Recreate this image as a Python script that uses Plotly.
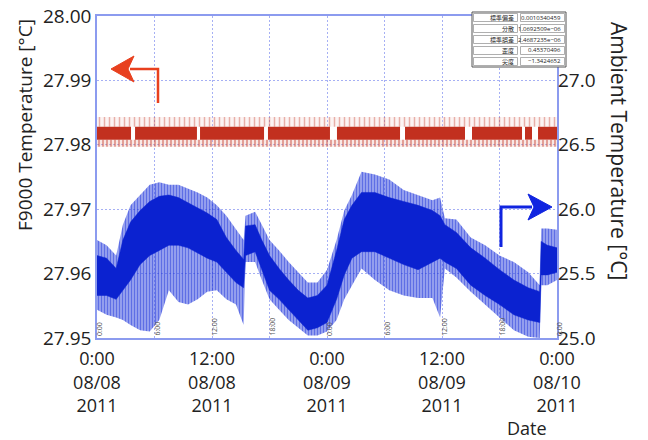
import plotly.graph_objects as go

# ---------------- data ----------------
# time axis: hours since 2011-08-08 0:00
x_tickvals = [0, 6, 12, 18, 24, 30, 36, 42, 48]
x_ticktext = ["0:00<br>08/08<br>2011", "", "12:00<br>08/08<br>2011", "",
              "0:00<br>08/09<br>2011", "", "12:00<br>08/09<br>2011", "",
              "0:00<br>08/10<br>2011"]
minor_labels = ["0:00", "6:00", "12:00", "18:00", "0:00", "6:00", "12:00", "18:00", "0:00"]

left_ticks = [27.95, 27.96, 27.97, 27.98, 27.99, 28.00]
right_ticks = [25.0, 25.5, 26.0, 26.5, 27.0]

# F9000 temperature (red, left axis): dense band segments and sparse tips
red_seg_start = [0.0, 3.97, 10.75, 17.84, 25.04, 32.14, 39.13, 44.66, 46.02]
red_seg_end = [3.55, 10.43, 17.43, 24.31, 31.62, 38.40, 44.35, 45.39, 48.0]
red_core_low = 27.9808
red_core_high = 27.9828
red_tip_high = 27.9843
red_tip_low = 27.9797

# Ambient temperature (blue, right axis): envelope of the noisy trace
amb_hours = [0, 1, 2, 2.7, 3.5, 4.5, 5.5, 6.5, 7.5, 8.5, 9.5, 10.5, 11.5, 12.5, 13.5, 14.5, 15.3,
             15.5, 16.5, 17.2, 18, 19, 20, 21, 22, 23, 24, 25, 25.8, 26.6, 27.6, 29, 30.5, 32, 33.5, 35, 35.8,
             36.3, 37.5, 39, 40.5, 42, 43.5, 45, 46.2,
             46.35, 47, 48]
amb_spike_hi = [25.76, 25.72, 25.64, 25.88, 26.03, 26.11, 26.19, 26.21, 26.19, 26.19, 26.16, 26.13, 26.09, 26.03, 25.95, 25.84, 25.76,
                25.95, 25.98, 25.88, 25.76, 25.68, 25.59, 25.51, 25.43, 25.43, 25.53, 25.76, 25.99, 26.11, 26.29, 26.27, 26.23, 26.15, 26.11, 26.07, 26.09,
                25.93, 25.92, 25.78, 25.72, 25.64, 25.59, 25.51, 25.41,
                25.85, 25.85, 25.84]
amb_core_hi = [25.64, 25.62, 25.54, 25.76, 25.90, 25.99, 26.06, 26.10, 26.11, 26.09, 26.05, 26.01, 25.97, 25.92, 25.78, 25.68, 25.61,
               25.87, 25.88, 25.76, 25.64, 25.54, 25.45, 25.37, 25.31, 25.33, 25.41, 25.68, 25.92, 26.03, 26.13, 26.13, 26.09, 26.06, 26.03, 25.99, 25.95,
               25.88, 25.82, 25.70, 25.62, 25.53, 25.45, 25.39, 25.36,
               25.75, 25.72, 25.70]
amb_core_lo = [25.33, 25.33, 25.30, 25.37, 25.45, 25.57, 25.64, 25.68, 25.72, 25.72, 25.70, 25.66, 25.62, 25.59, 25.51, 25.43, 25.39,
               25.64, 25.67, 25.53, 25.37, 25.30, 25.22, 25.14, 25.06, 25.08, 25.12, 25.30, 25.49, 25.62, 25.67, 25.67, 25.62, 25.57, 25.53, 25.59, 25.62,
               25.59, 25.54, 25.41, 25.33, 25.26, 25.18, 25.14, 25.12,
               25.49, 25.49, 25.51]
amb_spike_lo = [25.22, 25.18, 25.16, 25.14, 25.10, 25.06, 25.05, 25.14, 25.37, 25.28, 25.26, 25.30, 25.36, 25.37, 25.30, 25.26, 25.10,
                25.59, 25.59, 25.45, 25.30, 25.22, 25.14, 25.08, 25.02, 25.02, 25.05, 25.14, 25.30, 25.41, 25.54, 25.45, 25.37, 25.33, 25.31, 25.31, 25.16,
                25.54, 25.47, 25.36, 25.26, 25.16, 25.06, 25.01, 25.00,
                25.41, 25.41, 25.45]

stats_labels = ["標準偏差", "分散", "標準誤差", "歪度", "尖度"]
stats_values = ["0.0010340459", "1.0692509e−06", "2.4687235e−06", "0.45370496", "−1.3424652"]

# ---------------- styling ----------------
W, H = 648, 440
PL, PR, PT, PB = 97, 557, 16, 338
FONT = "Open Sans"
RED = "#c2301f"
BLUE = "#0b22d0"
GRID = "#a6b0f4"
FRAME = "#8c9bef"


def px(xp):
    return (xp - PL) / (PR - PL)


def py(yp):
    return (PB - yp) / (PB - PT)


fig = go.Figure()

# ---- red: sparse tips (pattern fill) ----
fig.add_trace(go.Scatter(
    x=[0, 48, 48, 0], y=[red_core_high, red_core_high, red_tip_high, red_tip_high],
    mode="lines", line=dict(width=0), fill="toself",
    fillcolor="rgba(0,0,0,0)",
    fillpattern=dict(shape="|", size=5, solidity=0.3, fgcolor="rgba(200,60,45,0.75)",
                     bgcolor="rgba(240,200,195,0.2)"),
    hoverinfo="skip", showlegend=False, yaxis="y"))
fig.add_trace(go.Scatter(
    x=[0, 48, 48, 0], y=[red_tip_low, red_tip_low, red_core_low, red_core_low],
    mode="lines", line=dict(width=0), fill="toself",
    fillcolor="rgba(0,0,0,0)",
    fillpattern=dict(shape="|", size=4, solidity=0.45, fgcolor="rgba(195,50,35,0.9)",
                     bgcolor="rgba(235,180,170,0.3)"),
    hoverinfo="skip", showlegend=False, yaxis="y"))
# ---- red: dense band segments ----
for s, e in zip(red_seg_start, red_seg_end):
    fig.add_trace(go.Scatter(
        x=[s, e, e, s], y=[red_core_low, red_core_low, red_core_high, red_core_high],
        mode="lines", line=dict(width=0), fill="toself", fillcolor=RED,
        hoverinfo="skip", showlegend=False, yaxis="y"))

# ---- blue: spike envelope (pattern) ----
fig.add_trace(go.Scatter(
    x=amb_hours + amb_hours[::-1], y=amb_spike_hi + amb_spike_lo[::-1],
    mode="lines", line=dict(width=0), fill="toself",
    fillcolor="rgba(0,0,0,0)",
    fillpattern=dict(shape="|", size=3, solidity=0.55, fgcolor="rgba(15,40,215,1)",
                     bgcolor="rgba(70,90,228,0.45)"),
    hoverinfo="skip", showlegend=False, yaxis="y2"))
# ---- blue: dense core ----
fig.add_trace(go.Scatter(
    x=amb_hours + amb_hours[::-1], y=amb_core_hi + amb_core_lo[::-1],
    mode="lines", line=dict(width=0.5, color=BLUE), fill="toself", fillcolor=BLUE,
    hoverinfo="skip", showlegend=False, yaxis="y2"))

shapes = []
annotations = []

# ---- arrows ----
shapes.append(dict(type="path", xref="paper", yref="paper",
                   path=f"M {px(158)} {py(103)} L {px(158)} {py(69)} L {px(130)} {py(69)}",
                   line=dict(color="#e8401e", width=2.5)))
shapes.append(dict(type="path", xref="paper", yref="paper",
                   path=f"M {px(111)} {py(69)} L {px(134)} {py(56)} L {px(128)} {py(69)} L {px(134)} {py(82)} Z",
                   fillcolor="#e8401e", line=dict(color="#e8401e", width=1)))
shapes.append(dict(type="path", xref="paper", yref="paper",
                   path=f"M {px(501)} {py(247)} L {px(501)} {py(207)} L {px(532)} {py(207)}",
                   line=dict(color="#1024e0", width=3)))
shapes.append(dict(type="path", xref="paper", yref="paper",
                   path=f"M {px(552)} {py(207)} L {px(528)} {py(194)} L {px(534)} {py(207)} L {px(528)} {py(220)} Z",
                   fillcolor="#1024e0", line=dict(color="#1024e0", width=1)))

# ---- statistics table ----
tx0, tx1, tx2 = 472, 519, 566
ty0, rowh = 12, 11
shapes.append(dict(type="rect", xref="paper", yref="paper",
                   x0=px(tx0), x1=px(tx2), y0=py(ty0), y1=py(ty0 + rowh * len(stats_labels)),
                   fillcolor="white", line=dict(color="#555", width=1)))
for i, (lab, val) in enumerate(zip(stats_labels, stats_values)):
    r0 = ty0 + i * rowh
    for a, b in ((tx0, tx1), (tx1, tx2)):
        shapes.append(dict(type="rect", xref="paper", yref="paper",
                           x0=px(a + 1.5), x1=px(b - 1.5), y0=py(r0 + 1.5), y1=py(r0 + rowh - 1.5),
                           line=dict(color="#9a9a9a", width=0.8)))
    annotations.append(dict(xref="paper", yref="paper", x=px(tx1 - 3), y=py(r0 + rowh / 2),
                            text=lab, showarrow=False, xanchor="right", yanchor="middle",
                            font=dict(family="Noto Sans CJK JP", size=6, color="#222")))
    annotations.append(dict(xref="paper", yref="paper", x=px(tx2 - 3), y=py(r0 + rowh / 2),
                            text=val, showarrow=False, xanchor="right", yanchor="middle",
                            font=dict(family=FONT, size=6, color="#222")))

# ---- small rotated time labels at gridlines ----
for xv, lab in zip(x_tickvals, minor_labels):
    annotations.append(dict(xref="x", yref="paper", x=xv, y=0.0, text=lab, showarrow=False,
                            textangle=-90, xanchor="center", yanchor="bottom", xshift=2,
                            font=dict(family=FONT, size=7, color="#555")))

# ---- axis titles ----
annotations.append(dict(xref="paper", yref="paper", x=px(25), y=py(125), text="F9000 Temperature [°C]",
                        showarrow=False, textangle=-90, xanchor="center", yanchor="middle",
                        font=dict(family=FONT, size=19, color="#222")))
annotations.append(dict(xref="paper", yref="paper", x=px(619), y=py(151), text="Ambient Temperature [°C]",
                        showarrow=False, textangle=90, xanchor="center", yanchor="middle",
                        font=dict(family=FONT, size=21, color="#222")))
annotations.append(dict(xref="paper", yref="paper", x=px(527), y=py(428), text="Date",
                        showarrow=False, xanchor="center", yanchor="middle",
                        font=dict(family=FONT, size=18, color="#222")))

fig.update_layout(
    width=W, height=H,
    margin=dict(l=PL, r=W - PR, t=PT, b=H - PB, pad=0, autoexpand=False),
    paper_bgcolor="white", plot_bgcolor="white",
    font=dict(family=FONT, size=19, color="#222"),
    xaxis=dict(range=[0, 48], tickvals=x_tickvals, ticktext=x_ticktext, automargin=False,
               showgrid=True, gridcolor=GRID, griddash="2px,2px", gridwidth=1,
               showline=True, linecolor=FRAME, linewidth=1.5, mirror=True, ticklabelstandoff=4,
               ticks="", zeroline=False, tickfont=dict(size=18, color="#222")),
    yaxis=dict(range=[27.95, 28.0], tickvals=left_ticks, tickformat=".2f", automargin=False,
               showgrid=True, gridcolor=GRID, griddash="2px,2px", gridwidth=1,
               showline=True, linecolor=FRAME, linewidth=1.5, mirror=True,
               ticks="", zeroline=False, tickfont=dict(size=19, color="#222")),
    yaxis2=dict(range=[25.0, 27.5], tickvals=right_ticks, tickformat=".1f", automargin=False,
                overlaying="y", side="right", showgrid=False, zeroline=False,
                showline=False, ticks="", tickfont=dict(size=19, color="#222")),
    shapes=shapes, annotations=annotations,
)

# the page body has a default 8px margin; remove it so the figure sits at the window origin
fig.write_html("out.html", config={"displayModeBar": False},
               post_script="document.body.style.margin='0px';")
